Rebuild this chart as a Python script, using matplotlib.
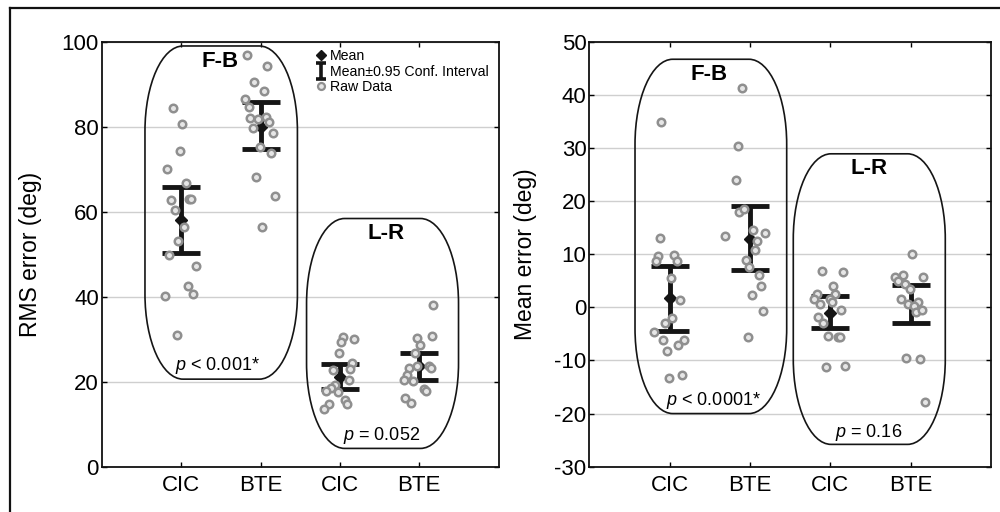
import numpy as np
import matplotlib
matplotlib.use('Agg')
import matplotlib.pyplot as plt
from matplotlib.patches import PathPatch
from matplotlib.path import Path
from matplotlib.lines import Line2D

plt.rcParams['font.family'] = ['Liberation Sans', 'DejaVu Sans']
plt.rcParams['mathtext.fontset'] = 'custom'
plt.rcParams['mathtext.it'] = 'Liberation Sans:italic'
plt.rcParams['mathtext.rm'] = 'Liberation Sans'
plt.rcParams['axes.unicode_minus'] = False

categories = ['CIC', 'BTE', 'CIC', 'BTE']
positions = [1, 2, 3, 4]

# ---------------- RMS error (left panel) ----------------
rms_fb_cic = [84.5, 80.7, 74.4, 70.0, 66.7, 62.7, 63.1, 63.1, 60.3, 56.3, 53.2, 49.8, 47.3, 42.5, 40.6, 40.1, 30.9]
rms_fb_cic_jit = [-0.105, 0.017, -0.008, -0.172, 0.063, -0.126, 0.105, 0.13, -0.08, 0.038, -0.034, -0.151, 0.184, 0.088, 0.155, -0.197, -0.055]
rms_fb_bte = [96.9, 94.3, 90.6, 88.5, 86.5, 84.6, 82.0, 81.8, 82.2, 81.0, 79.8, 78.5, 75.3, 73.9, 68.2, 63.7, 56.3]
rms_fb_bte_jit = [-0.172, 0.088, -0.08, 0.038, -0.193, -0.151, -0.13, -0.034, 0.067, 0.109, -0.1, 0.155, -0.008, 0.134, -0.055, 0.18, 0.017]
rms_lr_cic = [30.5, 30.0, 29.3, 26.8, 24.3, 23.1, 22.7, 20.4, 19.2, 18.6, 17.9, 17.6, 15.8, 14.7, 14.7, 13.5]
rms_lr_cic_jit = [0.042, 0.18, 0.017, -0.008, 0.155, 0.13, -0.084, 0.109, -0.067, -0.113, -0.172, -0.029, 0.067, 0.088, -0.143, -0.205]
rms_lr_bte = [38.0, 30.8, 30.2, 28.7, 26.8, 23.3, 23.7, 23.7, 23.2, 21.6, 20.4, 20.2, 18.2, 17.8, 16.2, 15.1]
rms_lr_bte_jit = [0.176, 0.155, -0.034, 0.013, -0.059, -0.126, -0.029, 0.117, 0.143, -0.159, -0.197, -0.08, 0.063, 0.088, -0.176, -0.1]
rms_mean = [58.0, 80.0, 21.0, 23.6]
rms_ci_low = [50.4, 74.8, 18.2, 20.5]
rms_ci_high = [65.8, 85.8, 24.1, 26.8]

# ---------------- Mean error (right panel) ----------------
me_fb_cic = [34.8, 13.0, 9.7, 8.65, 9.8, 8.65, 5.5, 1.3, -2.1, -3.0, -4.7, -6.2, -6.2, -7.1, -8.2, -13.3, -12.7]
me_fb_cic_jit = [-0.104, -0.124, -0.149, -0.174, 0.058, 0.087, 0.017, 0.133, 0.033, -0.058, -0.195, -0.079, 0.178, 0.108, -0.033, -0.008, 0.158]
me_fb_bte = [41.2, 30.3, 24.0, 18.0, 18.6, 13.4, 14.5, 14.0, 12.4, 10.8, 9.0, 7.5, 6.0, 4.1, 2.3, -0.6, -5.5]
me_fb_bte_jit = [-0.1, -0.149, -0.17, -0.133, -0.075, -0.311, 0.041, 0.183, 0.087, 0.062, -0.05, -0.008, 0.108, 0.137, 0.021, 0.162, -0.029]
me_lr_cic = [6.8, 6.6, 4.1, 2.5, 2.6, 1.5, 1.6, 0.55, 1.0, -0.5, -1.9, -3.0, -5.4, -5.5, -5.5, -11.3, -11.0]
me_lr_cic_jit = [-0.104, 0.158, 0.037, -0.17, 0.062, -0.203, -0.004, -0.129, 0.017, 0.133, -0.149, -0.087, -0.033, 0.091, 0.116, -0.054, 0.178]
me_lr_bte = [10.0, 5.8, 5.8, 6.1, 4.95, 4.3, 3.4, 1.6, 1.05, 0.7, 0.3, -0.9, -0.5, -9.5, -9.7, -17.8]
me_lr_bte_jit = [0.021, -0.199, 0.154, -0.1, -0.162, -0.071, -0.004, -0.124, 0.087, -0.033, 0.046, 0.071, 0.137, -0.054, 0.112, 0.183]
me_mean = [1.7, 12.9, -1.0, 0.6]
me_ci_low = [-4.5, 7.0, -3.9, -3.0]
me_ci_high = [7.8, 19.0, 2.1, 4.2]

group_labels = ['F-B', 'L-R']
rms_pvals = [r'$\mathit{p}$ < 0.001*', r'$\mathit{p}$ = 0.052']
me_pvals = [r'$\mathit{p}$ < 0.0001*', r'$\mathit{p}$ = 0.16']

RAW_EC = '#8f8f8f'
RAW_FC = '#e6e6e6'

fig = plt.figure(figsize=(10, 5.12), dpi=100)
ax1 = fig.add_axes([0.1017, 0.0885, 0.397, 0.830])
ax2 = fig.add_axes([0.5893, 0.0885, 0.4017, 0.830])

# outer frame of the figure
fig.add_artist(Line2D([0.010, 0.010], [-0.01, 0.984], color='#111111', lw=1.6, transform=fig.transFigure))
fig.add_artist(Line2D([0.010, 1.01], [0.984, 0.984], color='#111111', lw=1.6, transform=fig.transFigure))


def style_axes(ax, ylim, yticks, ylabel, label_x):
    ax.set_xlim(0, 5)
    ax.set_ylim(*ylim)
    ax.set_yticks(yticks)
    ax.set_xticks(positions)
    ax.set_xticklabels(categories)
    ax.tick_params(axis='both', direction='in', length=3.5, width=1, top=True, right=True,
                   labelsize=16, colors='black')
    ax.tick_params(axis='x', pad=6)
    ax.tick_params(axis='y', pad=2)
    ax.yaxis.grid(True, color='#cfcfcf', lw=1)
    ax.set_axisbelow(True)
    for s in ax.spines.values():
        s.set_linewidth(1.3)
        s.set_color('#111111')
    ax.set_ylabel(ylabel, fontsize=16.5)
    ax.yaxis.set_label_coords(label_x, 0.5)


def draw_group(ax, pos, values, jitter, mean, lo, hi):
    ax.errorbar([pos], [mean], yerr=[[mean - lo], [hi - mean]], fmt='none', ecolor='#151515',
                elinewidth=3.5, capsize=13.5, capthick=3.5, zorder=3)
    ax.plot([pos], [mean], marker='D', color='#151515', ms=6.5, ls='none', zorder=4)
    ax.plot(pos + np.asarray(jitter), values, ls='none', marker='o', ms=5.4, mfc=RAW_FC,
            mec=RAW_EC, mew=1.8, zorder=5)


def draw_box(ax, x0, x1, y0, y1, rx, ry):
    k = 0.5523
    verts = [
        (x0 + rx, y1), (x1 - rx, y1),
        (x1 - rx + k * rx, y1), (x1, y1 - ry + k * ry), (x1, y1 - ry),
        (x1, y0 + ry),
        (x1, y0 + ry - k * ry), (x1 - rx + k * rx, y0), (x1 - rx, y0),
        (x0 + rx, y0),
        (x0 + rx - k * rx, y0), (x0, y0 + ry - k * ry), (x0, y0 + ry),
        (x0, y1 - ry),
        (x0, y1 - ry + k * ry), (x0 + rx - k * rx, y1), (x0 + rx, y1),
        (x0 + rx, y1),
    ]
    codes = [Path.MOVETO, Path.LINETO,
             Path.CURVE4, Path.CURVE4, Path.CURVE4,
             Path.LINETO,
             Path.CURVE4, Path.CURVE4, Path.CURVE4,
             Path.LINETO,
             Path.CURVE4, Path.CURVE4, Path.CURVE4,
             Path.LINETO,
             Path.CURVE4, Path.CURVE4, Path.CURVE4,
             Path.CLOSEPOLY]
    ax.add_patch(PathPatch(Path(verts, codes), fc='none', ec='#151515', lw=1.2, zorder=2))


# ---------- left panel ----------
style_axes(ax1, (0, 100), [0, 20, 40, 60, 80, 100], 'RMS error (deg)', -0.150)
draw_box(ax1, 0.545, 2.465, 20.6, 99.0, 0.48, 20)
draw_box(ax1, 2.58, 4.494, 4.3, 58.4, 0.48, 20)
rms_sets = [(rms_fb_cic, rms_fb_cic_jit), (rms_fb_bte, rms_fb_bte_jit),
            (rms_lr_cic, rms_lr_cic_jit), (rms_lr_bte, rms_lr_bte_jit)]
for i, (v, j) in enumerate(rms_sets):
    draw_group(ax1, positions[i], v, j, rms_mean[i], rms_ci_low[i], rms_ci_high[i])
ax1.text(1.49, 95.3, group_labels[0], ha='center', va='center', fontsize=16, fontweight='bold')
ax1.text(3.58, 54.9, group_labels[1], ha='center', va='center', fontsize=16, fontweight='bold')
ax1.text(1.46, 23.9, rms_pvals[0], ha='center', va='center', fontsize=13)
ax1.text(3.52, 7.45, rms_pvals[1], ha='center', va='center', fontsize=13)

# legend
ibeam = Path([(-0.6, 1), (0.6, 1), (0, 1), (0, -1), (-0.6, -1), (0.6, -1)],
             [Path.MOVETO, Path.LINETO, Path.MOVETO, Path.LINETO, Path.MOVETO, Path.LINETO])
handles = [
    Line2D([], [], ls='none', marker='D', color='#151515', ms=5.5),
    Line2D([], [], ls='none', marker=ibeam, color='#151515', ms=12, mew=2.6, fillstyle='none'),
    Line2D([], [], ls='none', marker='o', ms=5, mfc=RAW_FC, mec=RAW_EC, mew=1.6),
]
ax1.legend(handles, ['Mean', 'Mean\u00b10.95 Conf. Interval', 'Raw Data'], loc='upper left',
           bbox_to_anchor=(0.52, 1.0), frameon=False, fontsize=10.2, handlelength=0.8,
           handletextpad=0.25, labelspacing=0.12, borderaxespad=0.3, borderpad=0.2)

# ---------- right panel ----------
style_axes(ax2, (-30, 50), list(range(-30, 51, 10)), 'Mean error (deg)', -0.131)
draw_box(ax2, 0.569, 2.457, -20.0, 46.7, 0.47, 16)
draw_box(ax2, 2.539, 4.431, -25.8, 28.9, 0.47, 16)
me_sets = [(me_fb_cic, me_fb_cic_jit), (me_fb_bte, me_fb_bte_jit),
           (me_lr_cic, me_lr_cic_jit), (me_lr_bte, me_lr_bte_jit)]
for i, (v, j) in enumerate(me_sets):
    draw_group(ax2, positions[i], v, j, me_mean[i], me_ci_low[i], me_ci_high[i])
ax2.text(1.494, 43.9, group_labels[0], ha='center', va='center', fontsize=16, fontweight='bold')
ax2.text(3.48, 26.2, group_labels[1], ha='center', va='center', fontsize=16, fontweight='bold')
ax2.text(1.54, -17.5, me_pvals[0], ha='center', va='center', fontsize=13)
ax2.text(3.48, -23.5, me_pvals[1], ha='center', va='center', fontsize=13)

fig.savefig('out.png', dpi=100)
